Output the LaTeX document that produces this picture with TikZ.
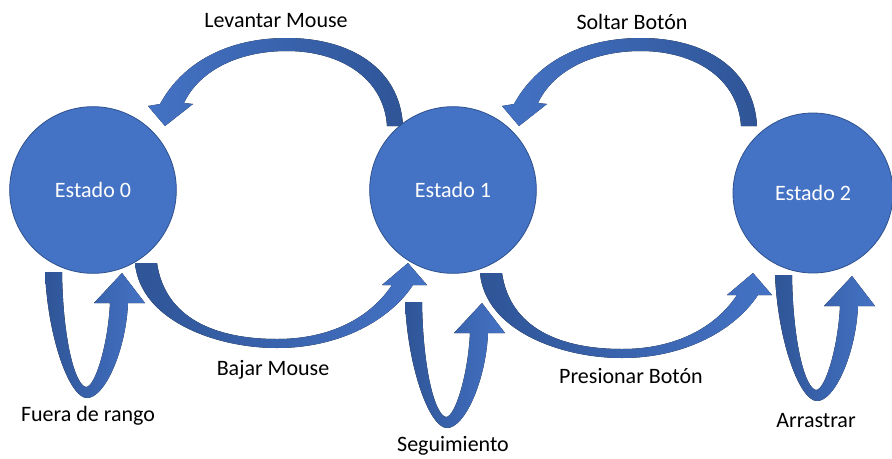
\documentclass[tikz,border=0pt]{standalone}
\usepackage{fontspec}
\setmainfont{Carlito}
\usetikzlibrary{positioning,calc}

\definecolor{stateblue}{HTML}{4472C4}
\definecolor{stateline}{HTML}{2F528F}
\definecolor{tailblue}{HTML}{2F5597}

\tikzset{
  toparrow/.pic={
    \fill[left color=stateblue,right color=tailblue]
      (8,0) .. controls (5,-58) and (-45,-88) .. (-108,-88)
      .. controls (-167,-88) and (-212,-64) .. (-235,-22)
      -- (-247,-20) -- (-230,0) -- (-202,-22) -- (-211,-23)
      .. controls (-197,-53) and (-160,-75) .. (-108,-75)
      .. controls (-55,-75) and (-11,-48) .. (-8,0) -- cycle;
  },
  botarrow/.pic={
    \fill[left color=tailblue,right color=stateblue]
      (-11,0) .. controls (-6,57) and (69,85) .. (131,85)
      .. controls (194,85) and (244,57) .. (267,22)
      -- (281,22) -- (262,0) -- (236,22) -- (246,22)
      .. controls (224,55) and (184,76) .. (131,76)
      .. controls (69,76) and (19,55) .. (11,0) -- cycle;
  },
  selfloop/.pic={
    \fill[left color=tailblue,right color=stateblue]
      (-8,0) .. controls (-5,68) and (17,126) .. (34,126)
      .. controls (52,126) and (73,78) .. (75,31)
      -- (92,31) -- (69,1) -- (41,31) -- (57,31)
      .. controls (55,73) and (42,115) .. (33,115)
      .. controls (22,113) and (10,68) .. (9,0) -- cycle;
  }
}

\begin{document}
\begin{tikzpicture}[x={(0.75pt,0)},y={(0,-0.75pt)},node distance=270pt,
  state/.style={circle,fill=stateblue,draw=stateline,line width=0.6pt,minimum size=125pt,inner sep=0pt,text=white,font=\fontsize{16.5pt}{19pt}\selectfont},
  lbl/.style={inner sep=0pt,font=\fontsize{16.5pt}{19pt}\selectfont}]
  \useasboundingbox (0,0) rectangle (892,458);

  % block arrows go first, circles sit on top
  \coordinate (c0) at (93,190);
  \pic at ($(c0)+(53,73)$) {botarrow};
  \pic at ($(c0)+(-40,82)$) {selfloop};
  \pic at ($(c0)+(302,-64)$) {toparrow};
  \pic at ($(c0)+(320,112)$) {selfloop};
  \pic at ($(c0)+(398,83)$) {botarrow};
  \pic at ($(c0)+(656,-64)$) {toparrow};
  \pic at ($(c0)+(690,85)$) {selfloop};

  \node[state] (s0) at (c0) {Estado 0};
  \node[state] (s1) [right of=s0] {Estado 1};
  \node[state,minimum size=120pt] (s2) [right of=s1,yshift=-2.25pt] {Estado 2};

  \node[lbl] (lev) at (276,21) {Levantar Mouse};
  \node[lbl] (sol) at (632,22) {Soltar Botón};
  \node[lbl] (baj) at (273,370) {Bajar Mouse};
  \node[lbl] (pre) at (631,376) {Presionar Botón};
  \node[lbl] (fue) at (88,416) {Fuera de rango};
  \node[lbl] (seg) at (453,446) {Seguimiento};
  \node[lbl] (arr) at (816,421) {Arrastrar};
\end{tikzpicture}
\end{document}
